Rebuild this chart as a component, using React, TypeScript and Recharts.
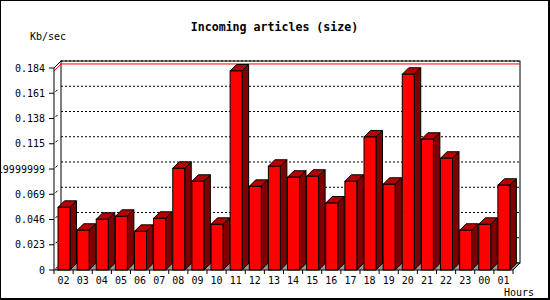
import { BarChart, Bar, XAxis, YAxis, CartesianGrid, ReferenceArea, ReferenceLine } from 'recharts';

const hours = ['02', '03', '04', '05', '06', '07', '08', '09', '10', '11', '12', '13',
  '14', '15', '16', '17', '18', '19', '20', '21', '22', '23', '00', '01'];
const sizes = [0.0571, 0.0362, 0.0462, 0.0489, 0.0352, 0.0471, 0.0926, 0.0808, 0.0416, 0.1813, 0.0762, 0.0945,
  0.0845, 0.0854, 0.061, 0.0808, 0.1212, 0.0781, 0.1783, 0.1191, 0.1018, 0.0362, 0.0416, 0.0772];
const yTicks = [0, 0.023, 0.046, 0.069, 0.092, 0.115, 0.138, 0.161, 0.184];
const yTickLabels = ['0', '0.023', '0.046', '0.069', '0.0919999999', '0.115', '0.138', '0.161', '0.184'];

const data = hours.map((hour, i) => ({ hour, size: sizes[i] }));
const maxSize = Math.max(...sizes);

const MONO = '"DejaVu Sans Mono", monospace';
const DEPTH = 7; // depth of the 3D frame
const BAR_DEPTH = 6.5;

function Bar3D(props: any) {
  const { x, y, width, height } = props;
  if (!height || height <= 0) return null;
  const d = BAR_DEPTH;
  return (
    <g stroke="#000" strokeWidth={1}>
      <polygon points={`${x},${y} ${x + d},${y - d} ${x + width + d},${y - d} ${x + width},${y}`} fill="#b80000" />
      <polygon
        points={`${x + width},${y} ${x + width + d},${y - d} ${x + width + d},${y + height - d} ${x + width},${y + height}`}
        fill="#800000"
      />
      <rect x={x} y={y} width={width} height={height} fill="#ff0000" />
    </g>
  );
}

// back panel, floor and corner edges, sized from the plot area
function Frame(props: any) {
  const { x, y, width: w, height: h } = props;
  const D = DEPTH;
  return (
    <g>
      <polygon points={`${x},${y + h} ${x + w},${y + h} ${x + w + D},${y + h - D} ${x + D},${y + h - D}`} fill="#999" />
      <rect x={x + D} y={y - D} width={w} height={h} fill="none" stroke="#000" />
      <line x1={x} y1={y} x2={x + D} y2={y - D} stroke="#000" />
      <line x1={x + w} y1={y + h} x2={x + w + D} y2={y + h - D} stroke="#000" />
    </g>
  );
}

function GridLine(props: any) {
  const { x1, x2, y1, index } = props;
  const D = DEPTH;
  return (
    <g key={`g-${index}`}>
      <line x1={x1 + D} y1={y1 - D} x2={x2 + D} y2={y1 - D} stroke="#000" strokeDasharray="2 2" />
      <line x1={x1 + 1.5} y1={y1 - 1.5} x2={x1 + 3.5} y2={y1 - 3.5} stroke="#000" />
    </g>
  );
}

function MaxLine(props: any) {
  const { x1, x2, y1 } = props;
  const D = DEPTH;
  return (
    <g stroke="#ff0000">
      <line x1={x1} y1={y1} x2={x1 + D} y2={y1 - D} />
      <line x1={x1 + D} y1={y1 - D} x2={x2 + D} y2={y1 - D} />
    </g>
  );
}

function HourTick(props: any) {
  const { x, y, payload, index, visibleTicksCount, width } = props;
  const band = width && visibleTicksCount ? width / visibleTicksCount : 459 / 24;
  const left = x - band / 2;
  return (
    <g>
      <line x1={left} y1={y} x2={left} y2={y + 4} stroke="#000" />
      {index === visibleTicksCount - 1 && (
        <line x1={left + band} y1={y} x2={left + band} y2={y + 4} stroke="#000" />
      )}
      <text x={x} y={y + 13.5} textAnchor="middle" fontSize={10} fontFamily={MONO} fill="#000">
        {payload.value}
      </text>
    </g>
  );
}

export default function App() {
  return (
    <div style={{ position: 'absolute', left: 0, top: 0, width: 550, height: 300, background: '#fff' }}>
      <BarChart width={550} height={300} data={data} margin={{ top: 68, right: 37, bottom: 0, left: 0 }}>
        <CartesianGrid vertical={false} horizontal={GridLine} />
        <ReferenceArea y1={0} y2={0.184} shape={Frame} ifOverflow="visible" zIndex={-90} />
        <ReferenceLine y={maxSize} shape={MaxLine} ifOverflow="visible" zIndex={-80} />
        <XAxis
          dataKey="hour"
          height={30}
          interval={0}
          tickSize={0}
          tickMargin={0}
          tickLine={false}
          axisLine={{ stroke: '#000' }}
          tick={HourTick}
        />
        <YAxis
          type="number"
          domain={[0, 0.184]}
          ticks={yTicks}
          interval={0}
          width={54}
          tickSize={5}
          tickMargin={4}
          axisLine={{ stroke: '#000' }}
          tickLine={{ stroke: '#000' }}
          tick={{ fill: '#000', fontSize: 10, fontFamily: MONO }}
          tickFormatter={(v: number) => yTickLabels[yTicks.findIndex((t) => Math.abs(t - v) < 1e-9)]}
        />
        <Bar dataKey="size" barSize={12} shape={Bar3D} isAnimationActive={false} />
      </BarChart>
      <svg width={550} height={300} style={{ position: 'absolute', left: 0, top: 0, pointerEvents: 'none' }}>
        <text x={274.5} y={31} textAnchor="middle" fontSize={11.6} fontWeight="bold" fontFamily={MONO} fill="#000">
          Incoming articles (size)
        </text>
        <text x={30} y={40} fontSize={10} fontFamily={MONO} fill="#000">Kb/sec</text>
        <text x={504} y={296} fontSize={10} fontFamily={MONO} fill="#000">Hours</text>
        <rect x={0.5} y={0.5} width={548} height={298} fill="none" stroke="#000" />
        <line x1={549.5} y1={0} x2={549.5} y2={300} stroke="#000" />
        <line x1={0} y1={299.5} x2={550} y2={299.5} stroke="#000" />
      </svg>
    </div>
  );
}
